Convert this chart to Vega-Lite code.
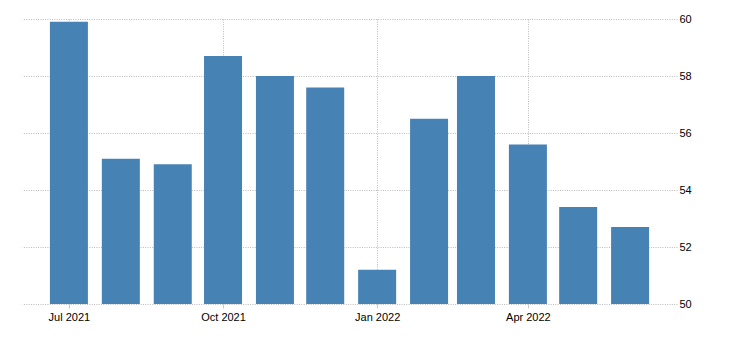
{
  "$schema": "https://vega.github.io/schema/vega-lite/v6.json",
  "width": 655,
  "height": 285,
  "autosize": {"type": "none"},
  "padding": {"left": 22, "top": 19, "right": 53, "bottom": 39},
  "background": "white",
  "config": {
    "view": {"stroke": null},
    "font": "Liberation Sans",
    "axis": {"labelFont": "Liberation Sans", "labelFontSize": 11, "labelColor": "#000000", "gridColor": "#bbbbbb", "gridDash": [1, 1.33], "gridWidth": 1, "domain": false, "title": null}
  },
  "data": {
    "values": [
      {"date": "2021-07-01", "value": 59.9},
      {"date": "2021-08-01", "value": 55.1},
      {"date": "2021-09-01", "value": 54.9},
      {"date": "2021-10-01", "value": 58.7},
      {"date": "2021-11-01", "value": 58.0},
      {"date": "2021-12-01", "value": 57.6},
      {"date": "2022-01-01", "value": 51.2},
      {"date": "2022-02-01", "value": 56.5},
      {"date": "2022-03-01", "value": 58.0},
      {"date": "2022-04-01", "value": 55.6},
      {"date": "2022-05-01", "value": 53.4},
      {"date": "2022-06-01", "value": 52.7}
    ]
  },
  "mark": {"type": "bar", "width": 38, "color": "#4682b4", "clip": true},
  "encoding": {
    "x": {
      "field": "date",
      "type": "temporal",
      "scale": {"type": "utc", "domain": ["2021-06-03", "2022-06-29"], "nice": false, "padding": 0},
      "axis": {
        "tickCount": {"interval": "month", "step": 3},
        "labelExpr": "utcFormat(datum.value, '%b %Y')",
        "grid": true,
        "ticks": true,
        "tickSize": 4,
        "tickColor": "#c8c8c8",
        "labelPadding": 3,
        "labelFlush": false,
        "labelOverlap": false
      }
    },
    "y": {
      "field": "value",
      "type": "quantitative",
      "scale": {"domain": [50, 60], "nice": false, "zero": false},
      "axis": {
        "orient": "right",
        "values": [50, 52, 54, 56, 58, 60],
        "grid": true,
        "ticks": false,
        "tickSize": 0,
        "labelPadding": 2,
        "labelFlush": false
      }
    }
  }
}
